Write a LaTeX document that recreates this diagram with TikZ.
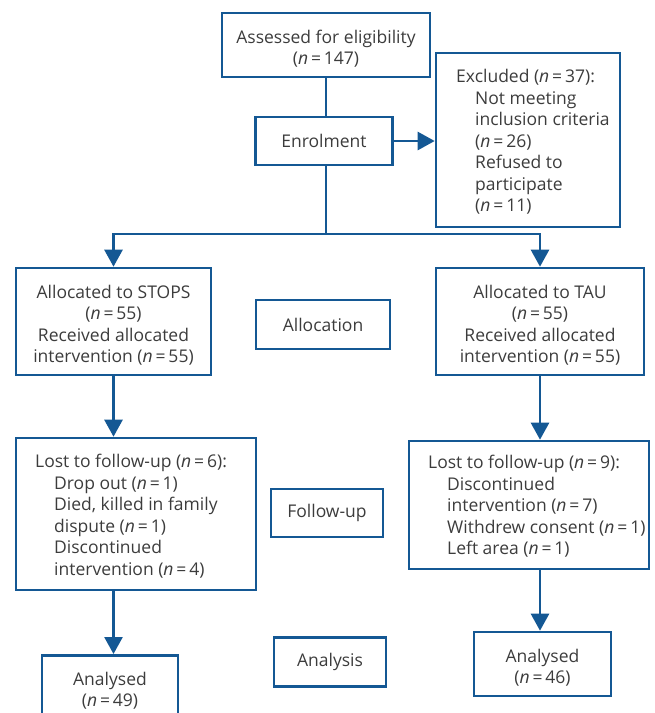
\documentclass[tikz,border=0pt]{standalone}
\usepackage{fontspec}
\setmainfont{Open Sans}
\usetikzlibrary{arrows.meta}
\definecolor{blu}{RGB}{20,88,148}
\definecolor{txt}{RGB}{60,60,60}
\tikzset{
  box/.style={draw=blu, line width=2.6pt, rectangle, inner sep=0pt, text=txt,
    font=\fontsize{17.5}{21.5}\selectfont},
  ctr/.style={align=center},
  lbl/.style={text=txt, align=center, inner sep=0pt, yshift=-3.5pt,
    font=\fontsize{17.5}{21.5}\selectfont},
  free/.style={text=txt, align=left, anchor=north west, inner sep=0pt,
    font=\fontsize{17.5}{21.5}\selectfont},
  conn/.style={draw=blu, line width=2.6pt},
  arr/.style={conn, -{Triangle[length=17pt,width=18pt]}},
}
\newcommand{\nn}{\textit{n}\,=\,}
\newcommand{\ind}{\hspace*{19pt}}
\begin{document}
\begin{tikzpicture}[x=1pt,y=-1pt]
\useasboundingbox (0,0) rectangle (655,713);
\node[box,minimum width=208,minimum height=64,label={[lbl]center:{Assessed for eligibility\\(\nn147)}}] (assess) at (326,45) {};
\node[box,ctr,minimum width=137,minimum height=48] (enrol) at (324,141) {Enrolment};
\node[box,minimum width=184,minimum height=174] (excl) at (528,140) {};
\node[free] (excltxt) at (456,69) {Excluded (\nn37):\\\ind Not meeting\\\ind inclusion criteria\\\ind (\nn26)\\\ind Refused to\\\ind participate\\\ind (\nn11)};
\node[box,minimum width=195,minimum height=107,label={[lbl]center:{Allocated to STOPS\\(\nn55)\\Received allocated\\intervention (\nn55)}}] (stops) at (113.5,321.5) {};
\node[box,ctr,minimum width=134,minimum height=49] (alloc) at (323,324.5) {Allocation};
\node[box,minimum width=208,minimum height=107,label={[lbl]center:{Allocated to TAU\\(\nn55)\\Received allocated\\intervention (\nn55)}}] (tau) at (540,321.5) {};
\node[box,minimum width=240,minimum height=152] (lost1) at (136,514) {};
\node[free] (lost1txt) at (35,454) {Lost to follow-up (\nn6):\\\ind Drop out (\nn1)\\\ind Died, killed in family\\\ind dispute (\nn1)\\\ind Discontinued\\\ind intervention (\nn4)};
\node[box,ctr,minimum width=112,minimum height=48] (follow) at (327,513) {Follow-up};
\node[box,minimum width=240,minimum height=128] (lost2) at (529,505) {};
\node[free] (lost2txt) at (428,455) {Lost to follow-up (\nn9):\\\ind Discontinued\\\ind intervention (\nn7)\\\ind Withdrew consent (\nn1)\\\ind Left area (\nn1)};
\node[box,minimum width=136,minimum height=64,anchor=north,label={[lbl]center:{Analysed\\(\nn49)}}] (an1) at (110,654) {};
\node[box,ctr,minimum width=112,minimum height=49] (analysis) at (330,662) {Analysis};
\node[box,minimum width=137,minimum height=64,label={[lbl]center:{Analysed\\(\nn46)}}] (an2) at (542.5,664) {};
% connectors
\draw[conn] (assess) -- (assess |- enrol.north);
\draw[arr] (enrol.east) -- (excl.west |- enrol.east);
\coordinate (split) at (326,234);
\draw[conn] (split |- enrol.south) -- (split);
\draw[arr] (split) -| (stops.north);
\draw[arr] (split) -| (tau.north);
\draw[arr] (stops.south) -- (stops.south |- lost1.north);
\draw[arr] (tau.south) -- (tau.south |- lost2.north);
\draw[arr] (stops.south |- lost1.south) -- (stops.south |- an1.north);
\draw[arr] (tau.south |- lost2.south) -- (tau.south |- an2.north);
\end{tikzpicture}
\end{document}
